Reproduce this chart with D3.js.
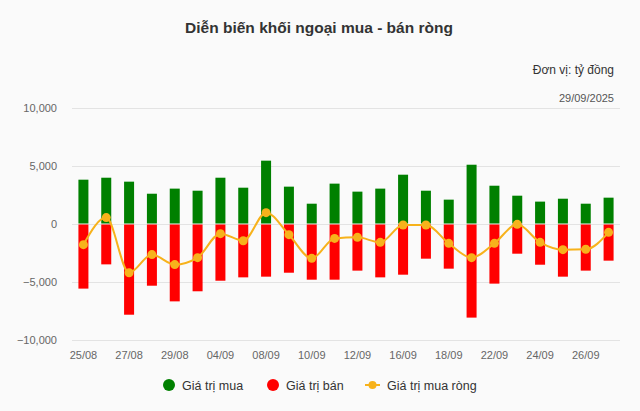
<!DOCTYPE html>
<html><head><meta charset="utf-8">
<script src="https://cdn.jsdelivr.net/npm/d3@7"></script>
<style>
html,body{margin:0;padding:0;background:#fafafa;}
svg{display:block;font-family:"Liberation Sans",Arial,sans-serif;}
</style></head>
<body><svg id="c" width="640" height="411"></svg>
<script>
const categories = ["25/08","26/08","27/08","28/08","29/08","03/09","04/09","05/09","08/09","09/09","10/09","11/09","12/09","15/09","16/09","17/09","18/09","19/09","22/09","23/09","24/09","25/09","26/09","29/09"];
const buyValues = [3820,3990,3650,2610,3050,2870,3990,3130,5460,3220,1750,3480,2790,3050,4250,2870,2100,5110,3300,2440,1930,2180,1750,2270];
const sellValues = [-5570,-3480,-7820,-5320,-6670,-5800,-4890,-4600,-4540,-4200,-4800,-4800,-4020,-4600,-4370,-2990,-3850,-8070,-5140,-2560,-3510,-4540,-4020,-3160];
const netValues = [-1780,550,-4200,-2640,-3500,-2900,-830,-1440,980,-920,-2960,-1240,-1150,-1580,-90,-90,-1670,-2900,-1670,-30,-1580,-2210,-2180,-720];
const yTicks = [-10000,-5000,0,5000,10000];
const seriesNames = ["Giá trị mua","Giá trị bán","Giá trị mua ròng"];
const colors = {buy:"#008000", sell:"#ff0000", net:"#f7b21b"};

(function(){
const svg = d3.select("#c");
const pl = 72, pr = 620, pt = 108, pb = 340;
const x = d3.scaleBand().domain(categories).range([pl,pr]);
const y = d3.scaleLinear().domain([-10000,10000]).range([pb,pt]);

svg.append("text").attr("x",319).attr("y",33).attr("text-anchor","middle")
  .attr("font-size",15.5).attr("font-weight","bold").attr("fill","#333").text("Diễn biến khối ngoại mua - bán ròng");
svg.append("text").attr("x",614).attr("y",74).attr("text-anchor","end")
  .attr("font-size",12).attr("fill","#333").text("Đơn vị: tỷ đồng");
svg.append("text").attr("x",614).attr("y",102).attr("text-anchor","end")
  .attr("font-size",11).attr("fill","#555").text("29/09/2025");

svg.append("g").selectAll("line").data(yTicks).join("line")
  .attr("x1",pl).attr("x2",pr).attr("y1",d=>Math.round(y(d))+0.5).attr("y2",d=>Math.round(y(d))+0.5)
  .attr("stroke","#e3e3e3").attr("stroke-width",1);

svg.append("g").selectAll("text").data(yTicks).join("text")
  .attr("x",57).attr("y",d=>y(d)+4).attr("text-anchor","end")
  .attr("font-size",11).attr("fill","#666").text(d=>d3.format(",")(d));

svg.append("g").selectAll("text").data(categories.filter((d,i)=>i%2===0)).join("text")
  .attr("x",d=>x(d)+x.bandwidth()/2).attr("y",359).attr("text-anchor","middle")
  .attr("font-size",11).attr("fill","#666").text(d=>d);

const bw = 10;
svg.append("g").selectAll("rect").data(buyValues).join("rect")
  .attr("x",(d,i)=>x(categories[i])+x.bandwidth()/2-bw/2).attr("width",bw)
  .attr("y",d=>y(d)).attr("height",d=>y(0)-y(d)-0.5).attr("fill",colors.buy);
svg.append("g").selectAll("rect").data(sellValues).join("rect")
  .attr("x",(d,i)=>x(categories[i])+x.bandwidth()/2-bw/2).attr("width",bw)
  .attr("y",d=>y(0)+0.5).attr("height",d=>y(d)-y(0)-0.5).attr("fill",colors.sell);

const line = d3.line().x((d,i)=>x(categories[i])+x.bandwidth()/2).y(d=>y(d)).curve(d3.curveMonotoneX);
svg.append("path").datum(netValues).attr("d",line).attr("fill","none")
  .attr("stroke",colors.net).attr("stroke-width",2);
svg.append("g").selectAll("circle").data(netValues).join("circle")
  .attr("cx",(d,i)=>x(categories[i])+x.bandwidth()/2).attr("cy",d=>y(d)).attr("r",4.5)
  .attr("fill",colors.net);

const lg = svg.append("g").attr("font-size",12.5).attr("fill","#333");
lg.append("circle").attr("cx",169).attr("cy",385).attr("r",6).attr("fill",colors.buy);
lg.append("text").attr("x",182).attr("y",389.5).text(seriesNames[0]);
lg.append("circle").attr("cx",273).attr("cy",385).attr("r",6).attr("fill",colors.sell);
lg.append("text").attr("x",286).attr("y",389.5).text(seriesNames[1]);
lg.append("line").attr("x1",365).attr("x2",380).attr("y1",385).attr("y2",385).attr("stroke",colors.net).attr("stroke-width",2);
lg.append("circle").attr("cx",372.5).attr("cy",385).attr("r",4).attr("fill",colors.net);
lg.append("text").attr("x",387).attr("y",389.5).text(seriesNames[2]);
})();
</script></body></html>
